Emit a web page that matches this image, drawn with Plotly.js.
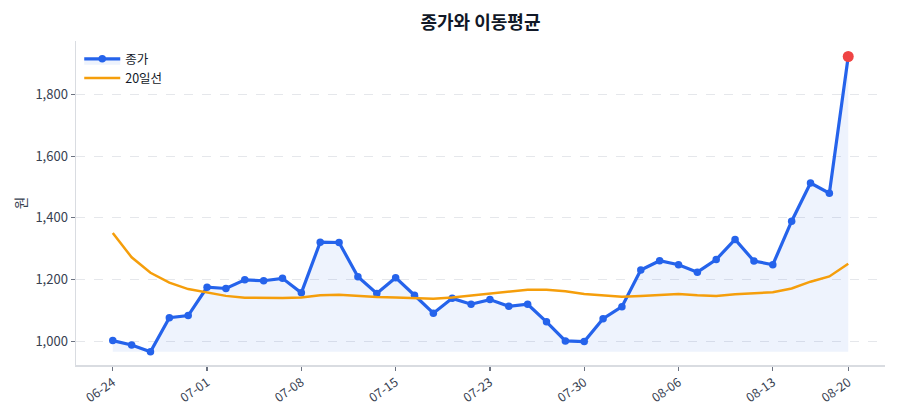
<!DOCTYPE html>
<html>
<head>
<meta charset="utf-8">
<script src="https://cdn.plot.ly/plotly-3.0.1.min.js"></script>
<style>html,body{margin:0;padding:0;background:#fff;}#chart{width:900px;height:420px;}</style>
</head>
<body>
<div id="chart"></div>
<script>
const dates = ["06-24","06-25","06-26","06-27","06-28","07-01","07-02","07-03","07-04","07-05",
  "07-08","07-09","07-10","07-11","07-12","07-15","07-16","07-18","07-19","07-22",
  "07-23","07-24","07-25","07-26","07-29","07-30","07-31","08-01","08-02","08-05",
  "08-06","08-07","08-08","08-09","08-12","08-13","08-14","08-16","08-19","08-20"];
const close = [1002,988,966,1076,1083,1175,1171,1199,1196,1204,
  1157,1321,1320,1209,1155,1206,1149,1091,1139,1120,
  1135,1113,1120,1063,1001,999,1073,1112,1231,1261,
  1248,1224,1265,1330,1260,1248,1389,1513,1480,1923];
const ma20 = [1351,1272,1222,1190,1169,1157,1147,1141,1140,1140,
  1142,1149,1151,1147,1143,1142,1140,1138,1142,1148,
  1154,1160,1167,1167,1162,1153,1149,1144,1147,1149,
  1153,1149,1147,1152,1156,1159,1171,1193,1210,1251];
const tickDates = ["06-24","07-01","07-08","07-15","07-23","07-30","08-06","08-13","08-20"];

const FONT = '"Noto Sans CJK KR", "Noto Sans", sans-serif';
const minClose = Math.min(...close);
const maxClose = Math.max(...close);
const pad = (maxClose - minClose) * 0.05;
const n = dates.length;

const traces = [
  {x: dates, y: close.map(() => minClose), type: 'scatter', mode: 'lines',
   line: {width: 0}, showlegend: false, hoverinfo: 'skip'},
  {x: dates, y: close, type: 'scatter', mode: 'lines+markers', name: '종가',
   fill: 'tonexty', fillcolor: 'rgba(37,99,235,0.08)',
   line: {color: '#2563eb', width: 3.2}, marker: {color: '#2563eb', size: 7.5}},
  {x: dates, y: ma20, type: 'scatter', mode: 'lines', name: '20일선',
   line: {color: '#f59e0b', width: 2.5}},
  {x: [dates[n-1]], y: [close[n-1]], type: 'scatter', mode: 'markers',
   marker: {color: '#ef4444', size: 11}, showlegend: false}
];

const layout = {
  width: 900, height: 420,
  margin: {l: 76, r: 15, t: 41, b: 55},
  paper_bgcolor: '#fff', plot_bgcolor: '#fff',
  font: {family: FONT, size: 12, color: '#374151'},
  title: {text: '<b>종가와 이동평균</b>', x: 0.5, xref: 'paper', y: 0.945, yanchor: 'middle',
          font: {family: FONT, size: 18, color: '#111827'}},
  showlegend: true,
  legend: {x: 0.004, y: 0.99, xanchor: 'left', yanchor: 'top', bgcolor: 'rgba(255,255,255,0)',
           traceorder: 'normal', itemwidth: 36,
           font: {family: FONT, size: 12.5, color: '#111827'}, tracegroupgap: 0},
  xaxis: {
    type: 'category', range: [-1.95, n - 1 + 1.95],
    tickmode: 'array', tickvals: tickDates, ticktext: tickDates,
    tickangle: -35, ticks: 'outside', ticklen: 4, tickwidth: 1.2, tickcolor: '#6b7280',
    showgrid: false, zeroline: false,
    showline: true, linecolor: '#d9dce1', linewidth: 1.5,
    tickfont: {family: FONT, size: 12.5, color: '#374151'}
  },
  yaxis: {
    range: [minClose - 0.9 * pad, maxClose + 1.05 * pad],
    tickmode: 'linear', tick0: 1000, dtick: 200, tickformat: ',d',
    ticks: 'outside', ticklen: 4, tickwidth: 1.2, tickcolor: '#6b7280',
    showgrid: true, gridcolor: '#e5e7eb', griddash: 'dash', gridwidth: 1,
    zeroline: false, showline: true, linecolor: '#d9dce1', linewidth: 1.5,
    tickfont: {family: FONT, size: 13, color: '#374151'},
    title: {text: '원', standoff: 5, font: {family: FONT, size: 13.5, color: '#374151'}}
  }
};

Plotly.newPlot('chart', traces, layout, {displayModeBar: false, staticPlot: true});
</script>
</body>
</html>
